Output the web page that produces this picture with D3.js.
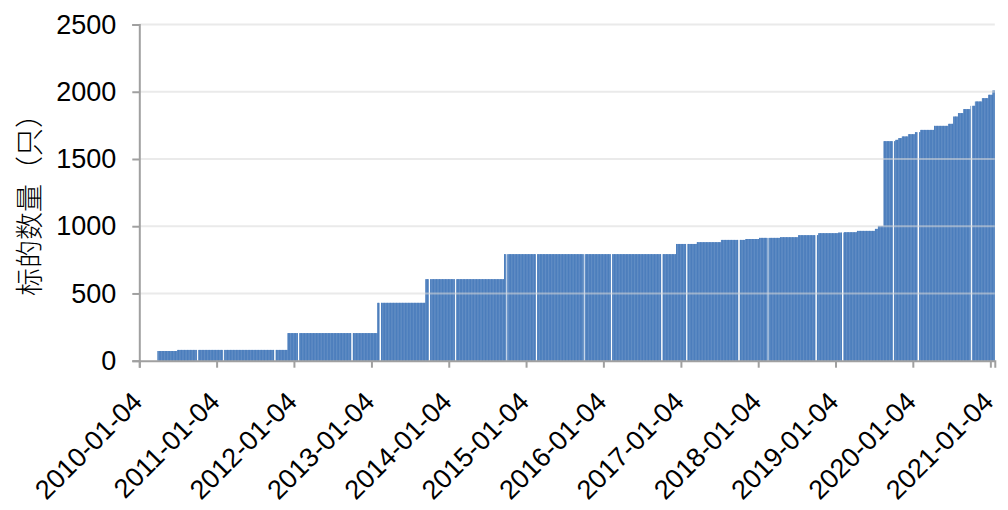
<!DOCTYPE html>
<html><head><meta charset="utf-8">
<script src="https://cdn.jsdelivr.net/npm/d3@7"></script>
<style>body{margin:0;background:#fff}svg{display:block}</style>
</head><body>
<svg id="c" width="1008" height="510"></svg>
<script>
// Step changes in the number of underlying securities (date the level begins, level)
const stepDates = ["2010-03-31","2010-07-01","2011-12-05","2013-01-31","2013-09-16","2014-09-22",
  "2016-12-12","2017-03-20","2017-07-12","2017-11-03","2018-01-08","2018-04-17","2018-07-11",
  "2018-10-15","2019-01-16","2019-02-13","2019-04-15","2019-07-09","2019-07-23","2019-08-19",
  "2019-10-14","2019-10-28","2019-11-13","2019-12-12","2020-01-14","2020-02-07","2020-04-13",
  "2020-06-18","2020-07-13","2020-08-04","2020-08-28","2020-09-30","2020-10-23","2020-11-25",
  "2020-12-24","2021-01-14"];
const stepValues = [72,80,205,430,606,792,
  868,881,898,905,913,918,933,
  948,952,955,965,980,1002,1632,
  1642,1655,1667,1684,1699,1716,1746,
  1761,1815,1841,1871,1895,1927,1952,
  1977,2009];
const lastDate = "2021-01-22";
// Market closures (Spring Festival / National Day)
const holidayStarts = ["2010-02-15","2010-10-01","2011-02-02","2011-10-01","2012-01-23","2012-10-01",
  "2013-02-11","2013-10-01","2014-01-31","2014-10-01","2015-02-18","2015-10-01","2016-02-08",
  "2016-10-01","2017-01-27","2017-10-02","2018-02-15","2018-10-01","2019-02-04","2019-10-01",
  "2020-01-24","2020-10-01"];
const holidayEnds = ["2010-02-19","2010-10-07","2011-02-08","2011-10-07","2012-01-27","2012-10-07",
  "2013-02-15","2013-10-07","2014-02-06","2014-10-07","2015-02-24","2015-10-07","2016-02-12",
  "2016-10-07","2017-02-02","2017-10-06","2018-02-21","2018-10-07","2019-02-08","2019-10-07",
  "2020-01-31","2020-10-08"];
const xTickLabels = ["2010-01-04","2011-01-04","2012-01-04","2013-01-04","2014-01-04","2015-01-04",
  "2016-01-04","2017-01-04","2018-01-04","2019-01-04","2020-01-04","2021-01-04"];
const yTicks = [0,500,1000,1500,2000,2500];
const yTitle = "标的数量（只）";

const parse = d3.utcParse("%Y-%m-%d");
const steps = stepDates.map((d,i)=>({d:parse(d), v:stepValues[i]}));
const hol = holidayStarts.map((s,i)=>[parse(s), parse(holidayEnds[i])]);
const data = [];
const end = parse(lastDate);
for (let t = steps[0].d; t <= end; t = d3.utcDay.offset(t,1)) {
  const wd = t.getUTCDay();
  if (wd===0 || wd===6) continue;
  if (hol.some(h => t>=h[0] && t<=h[1])) continue;
  let v = steps[0].v;
  for (const s of steps) if (s.d <= t) v = s.v;
  data.push({d:t, v});
}

const svg = d3.select("#c");
const x = d3.scaleUtc().domain([parse("2010-01-04"), parse("2021-01-25")]).range([139.3, 994.8]);
const y = d3.scaleLinear().domain([0,2500]).range([360.7, 24.5]);

// bars
svg.append("g").selectAll("rect").data(data).join("rect")
  .attr("x", d=>x(d.d)).attr("width", 0.55)
  .attr("y", d=>y(d.v)).attr("height", d=>y(0)-y(d.v))
  .attr("fill", "#4579ba");

// gridlines
svg.append("g").selectAll("line").data(yTicks.filter(v=>v>0)).join("line")
  .attr("x1", 139.3).attr("x2", 994.8).attr("y1", d=>y(d)).attr("y2", d=>y(d))
  .attr("stroke", "#d9d9d9").attr("stroke-width", 2).attr("stroke-opacity", 0.55);

// y axis
const ya = svg.append("g").attr("transform","translate(139.3,0)")
  .call(d3.axisLeft(y).tickValues(yTicks).tickSize(7).tickPadding(16).tickFormat(d3.format("d")));
ya.select(".domain").attr("stroke","#a0a0a0").attr("stroke-width",2);
ya.selectAll(".tick line").attr("stroke","#a0a0a0").attr("stroke-width",2);
ya.selectAll("text").attr("font-family","'Liberation Sans', Arial, sans-serif").attr("font-size",27).attr("fill","#000");

// x axis
const tickDates = xTickLabels.map(parse);
const xa = svg.append("g").attr("transform",`translate(0,${y(0)})`)
  .call(d3.axisBottom(x).tickValues(tickDates).tickSize(7).tickFormat(""));
xa.select(".domain").attr("stroke","#a0a0a0").attr("stroke-width",2);
xa.selectAll(".tick line").attr("stroke","#a0a0a0").attr("stroke-width",2);
svg.append("g").selectAll("text").data(xTickLabels).join("text")
  .attr("transform", d=>`translate(${x(parse(d))-2},${y(0)+36}) rotate(-45)`)
  .attr("text-anchor","end").attr("dy","0.35em")
  .attr("font-family","'Liberation Sans', Arial, sans-serif").attr("font-size",27).attr("fill","#000")
  .text(d=>d);

// y title
svg.append("text").attr("transform","translate(30,198) rotate(-90)")
  .attr("text-anchor","middle").attr("dy","0.35em")
  .attr("font-family","'Noto Sans CJK SC', sans-serif").attr("font-weight",300).attr("font-size",28).attr("fill","#000")
  .text(yTitle);
</script>
</body></html>
